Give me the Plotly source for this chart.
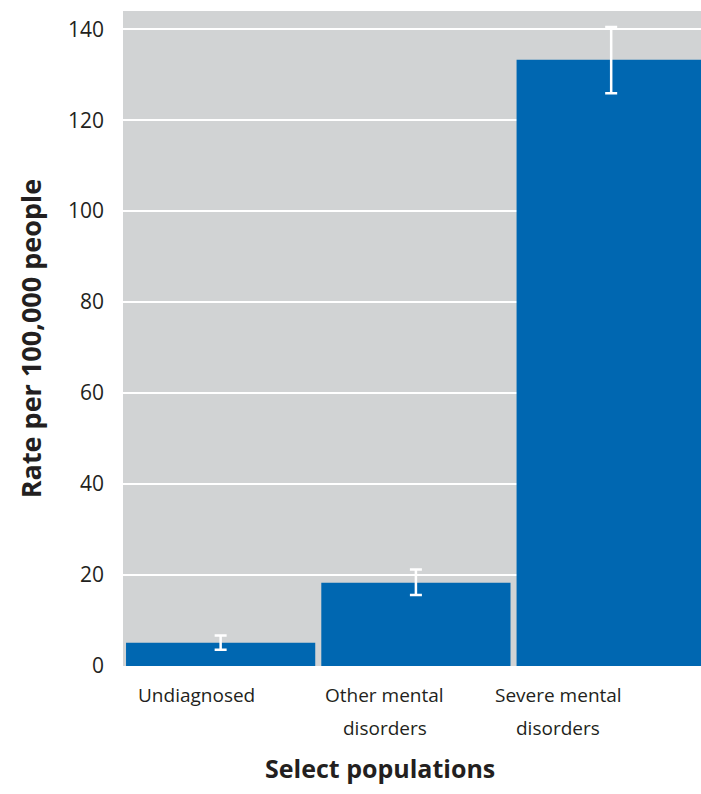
import plotly.graph_objects as go

categories = ["Undiagnosed", "Other mental<br>disorders", "Severe mental<br>disorders"]
values = [5.1, 18.3, 133.3]
err_plus = [1.6, 2.9, 7.2]
err_minus = [1.5, 2.7, 7.4]
y_ticks = [0, 20, 40, 60, 80, 100, 120, 140]
label_shift = [-24, -31, -53]

FONT = "Open Sans"
TXT = "#231f20"
x_pos = list(range(len(categories)))

W, H = 701, 794
ML, MR, MT, MB = 123, 0, 11, 128

fig = go.Figure()
fig.add_trace(go.Bar(
    x=x_pos, y=values,
    marker=dict(color="#0067b1", line=dict(width=0)),
    error_y=dict(type="data", array=err_plus, arrayminus=err_minus,
                 color="white", thickness=2.5, width=6, visible=True),
    hoverinfo="skip",
))

for i, (lab, sh) in enumerate(zip(categories, label_shift)):
    for j, line in enumerate(lab.split("<br>")):
        fig.add_annotation(x=i, y=0, xref="x", yref="y", text=line, showarrow=False,
                           yanchor="top", yshift=-14 - 33 * j, xshift=sh, align="center",
                           font=dict(family=FONT, size=19, color=TXT))

pw, ph = W - ML - MR, H - MT - MB
fig.add_annotation(x=(380 - ML) / pw, y=-(768 - (H - MB)) / ph, xref="paper", yref="paper",
                   xanchor="center", yanchor="middle",
                   text="<b>Select populations</b>", showarrow=False,
                   font=dict(family=FONT, size=25, color=TXT))

fig.update_layout(
    width=W, height=H,
    margin=dict(l=ML, r=MR, t=MT, b=MB, pad=0),
    paper_bgcolor="white", plot_bgcolor="#d1d3d4",
    bargap=0.031, showlegend=False,
    font=dict(family=FONT, color=TXT),
    xaxis=dict(range=[-0.5, 2.46], showticklabels=False, showgrid=False,
               zeroline=False, fixedrange=True),
    yaxis=dict(range=[0, 144], tickvals=y_ticks, ticktext=[str(t) for t in y_ticks],
               showgrid=True, gridcolor="white", gridwidth=2, zeroline=False,
               ticks="", ticklabelstandoff=18, fixedrange=True,
               tickfont=dict(family=FONT, size=21, color=TXT),
               title=dict(text="<b>Rate per 100,000 people</b>", standoff=18,
                          font=dict(family=FONT, size=27, color=TXT))),
)

fig.write_html("out.html",
               config={"displayModeBar": False, "staticPlot": True},
               post_script="document.body.style.margin='0';document.body.style.overflow='hidden';")
